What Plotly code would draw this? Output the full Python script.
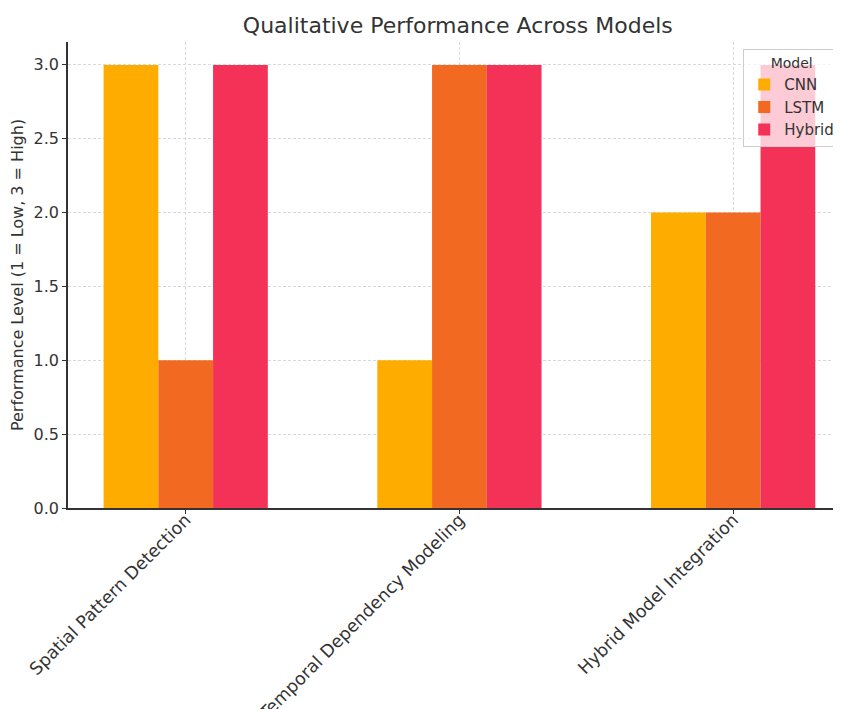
import plotly.graph_objects as go

categories = ["Spatial Pattern Detection", "Temporal Dependency Modeling", "Hybrid Model Integration"]
models = ["CNN", "LSTM", "Hybrid"]
cnn = [3, 1, 2]
lstm = [1, 3, 2]
hybrid = [3, 3, 3]
colors = ["#FFAC00", "#F26A21", "#F43157"]
y_ticks = [0.0, 0.5, 1.0, 1.5, 2.0, 2.5, 3.0]

fig = go.Figure()
for name, vals, c in zip(models, [cnn, lstm, hybrid], colors):
    fig.add_trace(go.Bar(x=list(range(len(categories))), y=vals, name=name,
                         marker=dict(color=c, line=dict(width=0))))

font = "DejaVu Sans, Verdana, sans-serif"
grid = dict(showgrid=True, gridcolor="#d9d9d9", griddash="3px,2px", gridwidth=1)
fig.update_layout(
    width=833, height=701,
    barmode="group", bargap=0.4, bargroupgap=0,
    plot_bgcolor="white", paper_bgcolor="white",
    margin=dict(l=60, r=0, t=34, b=201),
    font=dict(family=font, size=16, color="#333333"),
    title=dict(text="Qualitative Performance Across Models", x=0.540, xanchor="center",
               xref="container", y=0.976, yanchor="middle",
               font=dict(size=22, color="#333333")),
    xaxis=dict(tickmode="array", tickvals=list(range(len(categories))), ticktext=categories,
               tickangle=-45, range=[-0.43, 2.394], **grid,
               showline=True, linecolor="#333333", linewidth=1.5,
               ticks="outside", ticklen=4, tickcolor="#333333", zeroline=False,
               layer="above traces", automargin=False, tickfont=dict(size=17.5),
               ticklabelstandoff=-11),
    yaxis=dict(title=dict(text="Performance Level (1 = Low, 3 = High)", font=dict(size=16), standoff=8),
               range=[0, 3.155], tickvals=y_ticks, ticktext=[f"{v:.1f}" for v in y_ticks],
               **grid, showline=True, linecolor="#333333", linewidth=1.5,
               ticks="outside", ticklen=4, tickcolor="#333333", zeroline=False,
               layer="above traces", automargin=False, tickfont=dict(size=16)),
    legend=dict(title=dict(text="Model", side="top center", font=dict(size=14)),
                x=0.999, xanchor="right", y=0.985, yanchor="top",
                bgcolor="rgba(255,255,255,0.75)", bordercolor="#cccccc", borderwidth=1,
                font=dict(size=15), itemwidth=30, tracegroupgap=0),
)

fig.write_html("out.html")
